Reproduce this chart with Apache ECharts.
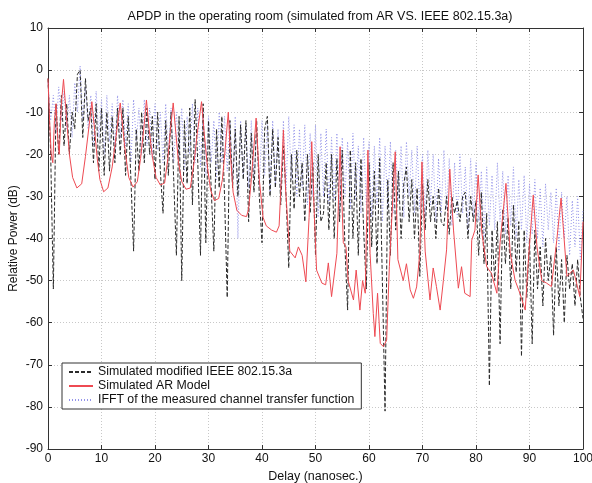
<!DOCTYPE html>
<html><head><meta charset="utf-8">
<script src="https://cdn.jsdelivr.net/npm/echarts@6/dist/echarts.min.js"></script>
<style>html,body{margin:0;padding:0;background:#fff}#c{width:592px;height:483px}</style>
</head><body><div id="c"></div>
<script>
var titleText = 'APDP in the operating room (simulated from AR VS. IEEE 802.15.3a)';
var xLabel = 'Delay (nanosec.)';
var yLabel = 'Relative Power (dB)';
var seriesNames = ['Simulated modified IEEE 802.15.3a', 'Simulated AR Model', 'IFFT of the measured channel transfer function'];
var xTicks = [0,10,20,30,40,50,60,70,80,90,100];
var yTicks = [10,0,-10,-20,-30,-40,-50,-60,-70,-80,-90];

var ieeeDelay = [0,0.5,1,1.5,2,2.5,3,3.5,4,4.5,5,5.5,6,6.5,7,7.5,8,8.5,9,9.5,10,10.5,11,11.5,12,12.5,13,13.5,14,14.5,15,15.5,16,16.5,17,17.5,18,18.5,19,19.5,20,20.5,21,21.5,22,22.5,23,23.5,24,24.5,25,25.5,26,26.5,27,27.5,28,28.5,29,29.5,30,30.5,31,31.5,32,32.5,33,33.5,34,34.5,35,35.5,36,36.5,37,37.5,38,38.5,39,39.5,40,40.5,41,41.5,42,42.5,43,43.5,44,44.5,45,45.5,46,46.5,47,47.5,48,48.5,49,49.5,50,50.5,51,51.5,52,52.5,53,53.5,54,54.5,55,55.5,56,56.5,57,57.5,58,58.5,59,59.5,60,60.5,61,61.5,62,62.5,63,63.5,64,64.5,65,65.5,66,66.5,67,67.5,68,68.5,69,69.5,70,70.5,71,71.5,72,72.5,73,73.5,74,74.5,75,75.5,76,76.5,77,77.5,78,78.5,79,79.5,80,80.5,81,81.5,82,82.5,83,83.5,84,84.5,85,85.5,86,86.5,87,87.5,88,88.5,89,89.5,90,90.5,91,91.5,92,92.5,93,93.5,94,94.5,95,95.5,96,96.5,97,97.5,98,98.5,99,99.5,100];
var ieeePower = [-2,-20,-52,-8,-20,-6,-18,-8,-20,-10,-14,-1,0,-16,-2,-12,-9,-22,-8,-24,-9,-25,-10,-24,-11,-22,-9,-20,-9,-25,-11,-26,-43,-14,-24,-10,-22,-9,-20,-11,-26,-10,-24,-34,-12,-25,-10,-26,-44,-11,-50,-12,-27,-9,-32,-7,-22,-44,-8,-41,-12,-28,-43,-14,-28,-11,-30,-54,-12,-28,-14,-30,-13,-26,-12,-36,-15,-29,-12,-30,-41,-14,-11,-30,-14,-28,-16,-32,-18,-30,-47,-20,-33,-19,-30,-22,-36,-20,-34,-22,-44,-20,-36,-34,-22,-38,-20,-40,-21,-36,-19,-42,-57,-19,-40,-22,-44,-21,-38,-52,-22,-42,-24,-46,-21,-50,-81,-26,-44,-22,-38,-24,-40,-27,-23,-36,-26,-40,-28,-49,-27,-38,-26,-36,-30,-40,-28,-36,-37,-30,-39,-30,-34,-31,-36,-30,-29,-40,-30,-36,-31,-44,-29,-46,-34,-75,-38,-50,-36,-65,-33,-46,-35,-52,-32,-48,-36,-68,-38,-54,-40,-65,-38,-52,-42,-56,-40,-50,-44,-63,-42,-56,-45,-60,-44,-52,-46,-56,-45,-54,-59];

var arDelay = [0,0.3,0.6,0.9,1.2,1.5,1.8,2.1,2.5,2.9,3.5,4.0,4.6,5.4,6.3,7.0,7.7,8.2,8.7,9.2,9.7,10.4,11.2,12.0,12.7,13.5,14.0,14.5,15.1,15.9,16.7,17.3,17.9,18.4,18.9,19.5,20.2,21.0,21.8,22.4,22.9,23.4,23.9,24.4,25.0,25.8,26.6,27.3,27.9,28.7,29.2,29.8,30.4,31.1,31.9,32.6,33.1,33.7,34.1,34.6,35.3,36.2,37.1,37.5,38.0,38.5,38.9,39.5,40.2,40.8,41.8,42.7,43.2,43.6,44.0,44.4,44.9,45.2,46.2,46.8,47.5,48.2,48.8,49.3,49.8,50.2,51.2,51.9,52.4,53.0,54.0,54.6,55.2,55.7,56.1,57.1,57.6,58.3,58.8,59.3,59.8,60.2,60.8,61.1,61.6,62.1,62.7,63.3,63.8,64.9,65.4,66.4,67.0,67.7,68.3,68.9,69.5,69.9,70.5,71.4,72.0,72.6,73.3,73.9,74.5,75.1,75.8,76.7,77.3,77.9,78.9,79.2,79.8,80.4,81.1,82.0,82.9,83.9,84.5,85.6,86.4,87.3,88.2,89.2,89.8,90.7,91.4,92.3,93.2,94.1,95.1,95.9,97.0,98.2,98.8,99.4,100];
var arPower = [-2,-12,-20,-22,-12,-8,-16,-20,-8,-2.2,-12,-20,-25.5,-28,-27,-20.5,-13,-7.5,-14,-21,-26,-28.9,-28,-23,-16,-7.8,-14,-20,-25.5,-27.8,-26.5,-21,-14,-7.1,-14,-20.5,-25.5,-27.3,-26.8,-21,-14,-7.8,-15,-22,-26.5,-28.3,-28,-22,-15,-7.5,-15,-23,-28.5,-31,-30.5,-26,-19,-10,-20,-29,-33.3,-34.5,-34.8,-33,-26,-18,-11.4,-26,-35,-37,-38,-38.5,-37,-26,-14.2,-28,-38,-43,-44.6,-42,-44,-50.3,-35,-17,-35,-47.5,-50.6,-51,-45.8,-53.8,-43.5,-18.2,-41,-42,-50,-54.6,-47.5,-57,-50,-53,-19,-43.5,-57.8,-63.3,-53,-64.9,-65.7,-64.1,-46.7,-19.4,-45,-50,-46,-52.2,-54.2,-51.5,-43.5,-21.8,-43,-54.6,-47,-51.4,-57,-50,-42.7,-23.5,-38,-51.8,-46.7,-53,-53.8,-40.4,-38,-24.9,-38.7,-46.7,-48.3,-53,-41,-26.9,-43.5,-49.9,-53,-57,-45,-29.7,-42,-50,-50.6,-51.4,-40.4,-30.4,-49,-47.5,-50.6,-53.8,-36];

var ifftDelay = ieeeDelay.slice();
var ifftPower = [-3,-12,-6,-15,-4,-12,-5,-14,-6,-16,-3,-10,1,-12,-4,-14,-6,-18,-5,-16,-7,-20,-6,-17,-8,-19,-6,-16,-7,-18,-8,-22,-7,-17,-9,-20,-7,-18,-9,-21,-8,-19,-10,-22,-8,-20,-9,-22,-10,-21,-9,-24,-11,-20,-8,-22,-9,-23,-10,-25,-11,-22,-12,-26,-10,-22,-11,-24,-12,-27,-11,-40,-12,-25,-13,-28,-12,-26,-14,-28,-12,-25,-13,-29,-12,-27,-14,-30,-12,-28,-11,-26,-13,-30,-14,-28,-13,-32,-15,-30,-13,-35,-15,-30,-14,-32,-16,-31,-15,-34,-16,-30,-17,-33,-15,-31,-18,-34,-16,-32,-17,-35,-18,-32,-16,-36,-18,-33,-17,-34,-19,-31,-18,-35,-17,-30,-19,-34,-18,-33,-20,-35,-19,-32,-20,-36,-21,-34,-19,-33,-21,-37,-22,-35,-20,-34,-23,-38,-21,-35,-22,-36,-24,-40,-23,-37,-25,-38,-22,-36,-24,-39,-25,-37,-23,-40,-26,-38,-25,-41,-27,-39,-26,-40,-28,-42,-27,-38,-29,-41,-28,-43,-29,-40,-30,-44,-31,-42,-30,-45,-33];

function pairs(xs, ys){ var out=[]; for (var i=0;i<xs.length;i++) out.push([xs[i], ys[i]]); return out; }

var FONT = 'Liberation Sans, Arial, sans-serif';
var chart = echarts.init(document.getElementById('c'), null, {renderer:'canvas'});
var gridLine = {show:true, lineStyle:{color:'#c8c8c8', type:[1,2], width:1}};
var axisLine = {show:true, onZero:false, lineStyle:{color:'#333', width:1}};
var tick = {show:true, inside:true, length:4, lineStyle:{color:'#333'}};
chart.setOption({
  animation:false,
  backgroundColor:'#fff',
  title:{text:titleText, left:315, top:5, textAlign:'center',
    textStyle:{fontFamily:FONT, fontSize:12.5, fontWeight:'normal', color:'#111'}},
  grid:{left:48, right:9, top:28, bottom:34, containLabel:false, outerBoundsMode:'none'},
  legend:{
    data:seriesNames, orient:'vertical', left:62, top:363,
    backgroundColor:'#fff', borderColor:'#333', borderWidth:1,
    padding:[3,7,3,6], itemWidth:24, itemHeight:8, itemGap:2,
    itemStyle:{opacity:0},
    textStyle:{fontFamily:FONT, fontSize:12.3, color:'#111'}
  },
  xAxis:[
    {type:'value', min:0, max:100, interval:10, position:'bottom',
     name:xLabel, nameLocation:'middle', nameGap:21, nameMoveOverlap:false,
     nameTextStyle:{fontFamily:FONT, fontSize:12.5, color:'#111'},
     axisLine:axisLine, axisTick:tick,
     axisLabel:{fontFamily:FONT, fontSize:12, color:'#111', margin:4},
     splitLine:gridLine},
    {type:'value', min:0, max:100, interval:10, position:'top',
     axisLine:axisLine, axisTick:tick,
     axisLabel:{show:false}, splitLine:{show:false}}
  ],
  yAxis:[
    {type:'value', min:-90, max:10, interval:10, position:'left',
     name:yLabel, nameLocation:'middle', nameGap:28, nameRotate:90, nameMoveOverlap:false,
     nameTextStyle:{fontFamily:FONT, fontSize:12, color:'#111'},
     axisLine:axisLine, axisTick:tick,
     axisLabel:{fontFamily:FONT, fontSize:12, color:'#111', margin:5},
     splitLine:gridLine},
    {type:'value', min:-90, max:10, interval:10, position:'right',
     axisLine:axisLine, axisTick:tick,
     axisLabel:{show:false}, splitLine:{show:false}}
  ],
  series:[
    {name:seriesNames[2], type:'line', data:pairs(ifftDelay, ifftPower), symbol:'none', z:2,
     lineStyle:{color:'#9393ea', width:1, type:[1,2]}, itemStyle:{color:'#9393ea'}},
    {name:seriesNames[0], type:'line', data:pairs(ieeeDelay, ieeePower), symbol:'none', z:3,
     lineStyle:{color:'#2a2a2a', width:1, type:[4,2]}, itemStyle:{color:'#2a2a2a'}},
    {name:seriesNames[1], type:'line', data:pairs(arDelay, arPower), symbol:'none', z:4,
     lineStyle:{color:'#ee4a52', width:1}, itemStyle:{color:'#ee4a52'}}
  ]
});
</script>
</body></html>
